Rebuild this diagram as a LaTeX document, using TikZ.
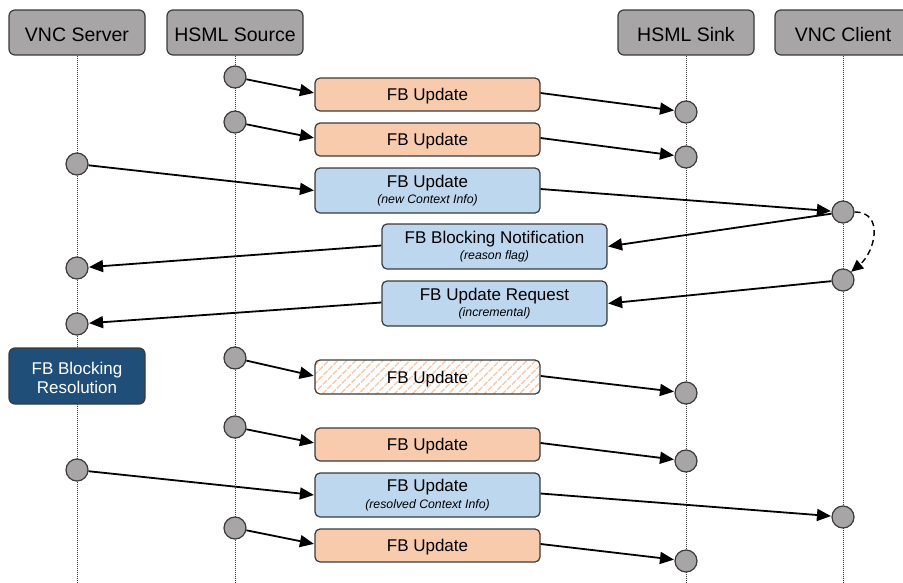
\documentclass[tikz,border=0pt]{standalone}
\usepackage{fontspec}
\setmainfont{Liberation Sans}
\usetikzlibrary{arrows.meta,patterns.meta}
\definecolor{hdrgray}{HTML}{A8A5A6}
\definecolor{edge}{HTML}{3A3A3A}
\definecolor{orangefill}{HTML}{F8CBAD}
\definecolor{bluefill}{HTML}{BDD7EE}
\definecolor{darkblue}{HTML}{1F4E79}
\definecolor{hatch}{HTML}{F9CDB0}
\tikzset{
  hdr/.style={draw=edge, fill=hdrgray, rounded corners=6pt, line width=1.2pt,
    minimum width=136pt, minimum height=45pt, inner sep=0pt,
    font=\fontsize{19.5}{22}\selectfont, execute at begin node={\rule{0pt}{18.5pt}}},
  dot/.style={circle, draw=edge, fill=hdrgray, line width=1.2pt, minimum size=22pt, inner sep=0pt},
  msgbox/.style={draw=edge, rounded corners=5pt, line width=1.2pt, minimum width=225pt,
    inner sep=0pt, align=center, font=\fontsize{17}{19}\selectfont},
  orangebox/.style={msgbox, fill=orangefill, minimum height=33pt,
    execute at begin node={\rule{0pt}{16.5pt}}},
  bluebox/.style={msgbox, fill=bluefill, minimum height=45pt,
    execute at begin node={\rule{0pt}{20.5pt}}},
  lifeline/.style={draw=edge, line width=0.8pt, dash pattern=on 1pt off 1pt},
  msg/.style={line width=1.8pt, -{Triangle[length=14pt,width=12pt]}, shorten >=0.5pt}
}
\newcommand{\subt}[1]{{\fontsize{12.3}{13}\selectfont\itshape #1}}
\begin{document}
\begin{tikzpicture}[x=1pt,y=-1pt]
\useasboundingbox (0,0) rectangle (903,582);
% headers
\node[hdr] (vs) at (77,32.5) {VNC Server};
\node[hdr] (hs) at (235,32.5) {HSML Source};
\node[hdr] (hk) at (686,32.5) {HSML Sink};
\node[hdr] (vc) at (843,32.5) {VNC Client};
% lifelines
\coordinate (vsend) at (77,582);
\coordinate (hsend) at (235,582);
\coordinate (hkend) at (686,582);
\coordinate (vcend) at (843,582);
\draw[lifeline] (vs.south) -- (vsend);
\draw[lifeline] (hs.south) -- (hsend);
\draw[lifeline] (hk.south) -- (hkend);
\draw[lifeline] (vc.south) -- (vcend);
% message boxes
\node[orangebox] (b1) at (427.5,94.5) {FB Update};
\node[orangebox] (b2) at (427.5,139.5) {FB Update};
\node[bluebox] (b3) at (427.5,190.5) {FB Update\\[-2.5pt]\subt{(new Context Info)}};
\node[bluebox] (b4) at (494.5,246.5) {FB Blocking Notification\\[-2.5pt]\subt{(reason flag)}};
\node[bluebox] (b5) at (494.5,303.5) {FB Update Request\\[-2.5pt]\subt{(incremental)}};
\node[draw=edge, fill=darkblue, text=white, rounded corners=6pt, line width=1.2pt,
  minimum width=136pt, minimum height=56pt, inner sep=0pt, align=center,
  font=\fontsize{17}{19.5}\selectfont] (res) at (77,376) {\rule{0pt}{16.5pt}FB Blocking\\Resolution};
\node[orangebox, fill=white, draw=none] (b6bg) at (427.5,377) {};
\node[orangebox, fill=none, pattern={Lines[angle=45,distance=6.5pt,line width=1.7pt]}, pattern color=hatch, draw=edge, minimum height=34pt] (b6) at (427.5,377) {FB Update};
\node[orangebox] (b7) at (427.5,444.5) {FB Update};
\node[bluebox, minimum height=44pt] (b8) at (427.5,495) {FB Update\\[-2.5pt]\subt{(resolved Context Info)}};
\node[orangebox] (b9) at (427.5,545.5) {FB Update};
% dots
\node[dot] (src1) at (235,77) {};
\node[dot] (sk1) at (686,112) {};
\node[dot] (src2) at (235,122) {};
\node[dot] (sk2) at (686,157) {};
\node[dot] (sv1) at (77,164) {};
\node[dot] (cl1) at (843,212) {};
\node[dot] (sv2) at (77,268) {};
\node[dot] (cl2) at (843,280) {};
\node[dot] (sv3) at (77,324) {};
\node[dot] (src3) at (235,358) {};
\node[dot] (sk3) at (686,393) {};
\node[dot] (src4) at (235,427) {};
\node[dot] (sk4) at (686,461) {};
\node[dot] (sv4) at (77,470) {};
\node[dot] (cl3) at (843,517) {};
\node[dot] (src5) at (235,528) {};
\node[dot] (sk5) at (686,561) {};
% messages
\draw[msg] (src1) -- ([yshift=1.5pt]b1.west);
\draw[msg] ([yshift=1.5pt]b1.east) -- (sk1);
\draw[msg] (src2) -- ([yshift=1.5pt]b2.west);
\draw[msg] ([yshift=1.5pt]b2.east) -- (sk2);
\draw[msg] (sv1) -- (b3.west);
\draw[msg] ([yshift=1.5pt]b3.east) -- (cl1);
\draw[msg] (cl1) -- (b4.east);
\draw[msg] ([yshift=1pt]b4.west) -- (sv2);
\draw[msg] (cl2) -- (b5.east);
\draw[msg] ([yshift=1pt]b5.west) -- (sv3);
\draw[msg] (src3) -- ([yshift=1pt]b6.west);
\draw[msg] ([yshift=1pt]b6.east) -- (sk3);
\draw[msg] (src4) -- ([yshift=1.5pt]b7.west);
\draw[msg] ([yshift=1.5pt]b7.east) -- (sk4);
\draw[msg] (sv4) -- (b8.west);
\draw[msg] ([yshift=1.5pt]b8.east) -- (cl3);
\draw[msg] (src5) -- ([yshift=1.5pt]b9.west);
\draw[msg] ([yshift=1.5pt]b9.east) -- (sk5);
% dashed self transition
\draw[line width=1.4pt, dash pattern=on 6pt off 4pt, -{Triangle[length=12pt,width=11pt]}]
  (cl1.east) to[out=0, in=40, looseness=1.3] (cl2.north east);
\end{tikzpicture}
\end{document}
